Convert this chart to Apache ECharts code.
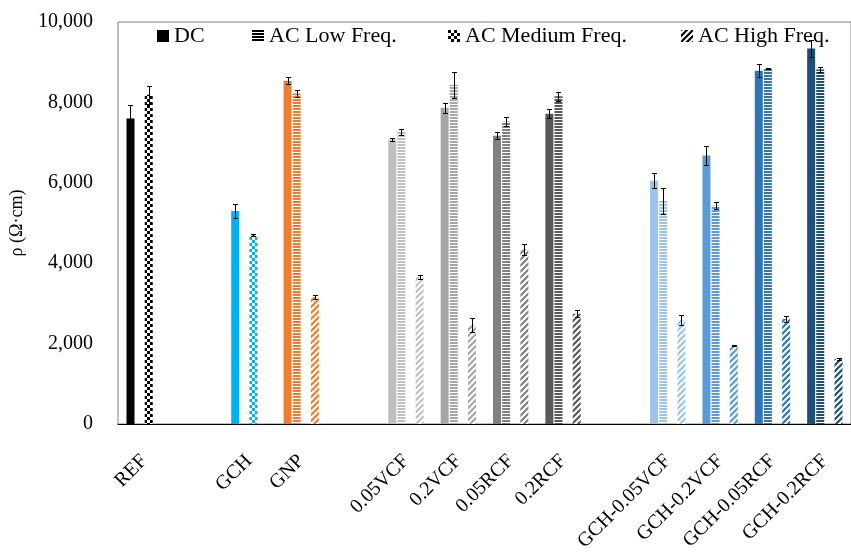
<!DOCTYPE html>
<html>
<head>
<meta charset="utf-8">
<script src="https://cdn.jsdelivr.net/npm/echarts@6/dist/echarts.min.js"></script>
<style>
  html, body { margin: 0; padding: 0; background: #fff; }
  #chart { width: 851px; height: 555px; }
</style>
</head>
<body>
<div id="chart"></div>
<script>
// ---- data ----
const categories = ['REF', '', 'GCH', 'GNP', '', '0.05VCF', '0.2VCF', '0.05RCF', '0.2RCF', '',
  'GCH-0.05VCF', 'GCH-0.2VCF', 'GCH-0.05RCF', 'GCH-0.2RCF'];
const seriesNames = ['DC', 'AC Low Freq.', 'AC Medium Freq.', 'AC High Freq.'];
const dcValues   = [7600, null, 5300, 8540, null, 7080, 7870, 7170, 7720, null, 6050, 6680, 8790, 9340];
const dcErr      = [340,  null, 165,  90,   null, 45,   125,  90,   110,  null, 185,  240,  155,  200];
const lowValues  = [null, null, null, 8220, null, 7270, 8440, 7520, 8150, null, 5550, 5430, 8850, 8820];
const lowErr     = [null, null, null, 95,   null, 80,   320,  110,  110,  null, 330,  88,   15,   66];
const medValues  = [8190, null, 4710, null, null, null, null, null, null, null, null, null, null, null];
const medErr     = [225,  null, 25,   null, null, null, null, null, null, null, null, null, null, null];
const highValues = [null, null, null, 3160, null, 3650, 2460, 4345, 2740, null, 2590, 1950, 2615, 1620];
const highErr    = [null, null, null, 45,   null, 55,   170,  140,  90,   null, 125,  20,   70,   25];
const yTicks = [0, 2000, 4000, 6000, 8000, 10000];

// ---- styles ----
const catColors = ['#000000', '#000000', '#00B0F0', '#ED7D31', '#000000', '#BFBFBF', '#A6A6A6', '#808080', '#595959',
  '#000000', '#9DC3E6', '#5B9BD5', '#2E75B6', '#1F4E79'];
const FONT = '"Liberation Serif", "Times New Roman", serif';

function makePattern(type, color) {
  const c = document.createElement('canvas');
  let w = 4, h = 4;
  if (type === 'h') { w = 4; h = 3; }
  if (type === 'c') { w = 6; h = 6; }
  if (type === 'd') { w = 6; h = 6; }
  c.width = w; c.height = h;
  const ctx = c.getContext('2d');
  ctx.fillStyle = '#ffffff';
  ctx.fillRect(0, 0, w, h);
  ctx.fillStyle = color;
  ctx.strokeStyle = color;
  if (type === 'h') {
    ctx.fillRect(0, 0, w, 2);
  } else if (type === 'c') {
    ctx.fillRect(0, 0, 3, 3);
    ctx.fillRect(3, 3, 3, 3);
  } else if (type === 'd') {
    ctx.lineWidth = 2.2;
    ctx.beginPath();
    ctx.moveTo(-1, 7); ctx.lineTo(7, -1);
    ctx.moveTo(-4, 4); ctx.lineTo(4, -4);
    ctx.moveTo(2, 10); ctx.lineTo(10, 2);
    ctx.stroke();
  }
  return { image: c, repeat: 'repeat' };
}

const patternTypes = ['s', 'h', 'c', 'd'];
function fillFor(type, color) {
  return type === 's' ? color : makePattern(type, color);
}

const allValues = [dcValues, lowValues, medValues, highValues];
const allErrs = [dcErr, lowErr, medErr, highErr];

const BAR_W = 8;
const GAP_PCT = 14;
const SPACING = BAR_W * (1 + GAP_PCT / 100);

const barSeries = seriesNames.map((name, s) => ({
  name: name,
  type: 'bar',
  barWidth: BAR_W,
  barGap: GAP_PCT + '%',
  itemStyle: { color: fillFor(patternTypes[s], '#000000') },
  data: allValues[s].map((v, i) => v == null ? '-' : {
    value: v,
    itemStyle: { color: fillFor(patternTypes[s], catColors[i]) }
  }),
  z: 2
}));

const errData = [];
allValues.forEach((arr, s) => {
  arr.forEach((v, i) => {
    if (v != null) errData.push([i, s, v, allErrs[s][i]]);
  });
});

const errSeries = {
  type: 'custom',
  name: 'err',
  data: errData,
  encode: { x: 0, y: 2 },
  z: 10,
  silent: true,
  renderItem: function (params, api) {
    const cat = api.value(0), s = api.value(1), v = api.value(2), e = api.value(3);
    const p = api.coord([cat, v]);
    const x = Math.round(p[0] + (s - 1.5) * SPACING) + 0.5;
    const yT = Math.round(api.coord([cat, v + e])[1]) + 0.5;
    const yB = Math.round(api.coord([cat, v - e])[1]) + 0.5;
    const cap = 2.5;
    const st = { stroke: '#000', lineWidth: 1 };
    return {
      type: 'group',
      children: [
        { type: 'line', shape: { x1: x, y1: yT, x2: x, y2: yB }, style: st },
        { type: 'line', shape: { x1: x - cap, y1: yT, x2: x + cap, y2: yT }, style: st },
        { type: 'line', shape: { x1: x - cap, y1: yB, x2: x + cap, y2: yB }, style: st }
      ]
    };
  }
};

const legendLefts = [157, 252, 448, 681];
const legends = seriesNames.map((name, s) => ({
  data: [name],
  left: legendLefts[s],
  top: 25,
  padding: 0,
  itemWidth: 12,
  itemHeight: 12,
  icon: 'rect',
  selectedMode: false,
  textStyle: { fontFamily: FONT, fontSize: 22, color: '#000' }
}));

const chart = echarts.init(document.getElementById('chart'), null, { renderer: 'canvas' });
chart.setOption({
  animation: false,
  backgroundColor: '#ffffff',
  legend: legends,
  grid: {
    left: 114, top: 22, width: 748, height: 402,
    show: true, borderColor: '#7f7f7f', borderWidth: 1, backgroundColor: 'transparent'
  },
  xAxis: {
    type: 'category',
    data: categories,
    axisLine: { show: true, lineStyle: { color: '#000', width: 1 } },
    axisTick: { show: false },
    axisLabel: {
      interval: 0, rotate: 45, margin: 34,
      fontFamily: FONT, fontSize: 20, color: '#000'
    },
    splitLine: { show: false }
  },
  yAxis: {
    type: 'value',
    min: yTicks[0], max: yTicks[yTicks.length - 1], interval: yTicks[1] - yTicks[0],
    name: 'ρ (Ω·cm)',
    nameLocation: 'middle',
    nameGap: 92,
    nameTextStyle: { fontFamily: FONT, fontSize: 18, color: '#000' },
    axisLine: { show: false },
    axisTick: { show: false },
    splitLine: { show: false },
    axisLabel: {
      margin: 25, fontFamily: FONT, fontSize: 20, color: '#000',
      formatter: v => v.toLocaleString('en-US')
    }
  },
  series: barSeries.concat([errSeries])
});
</script>
</body>
</html>
